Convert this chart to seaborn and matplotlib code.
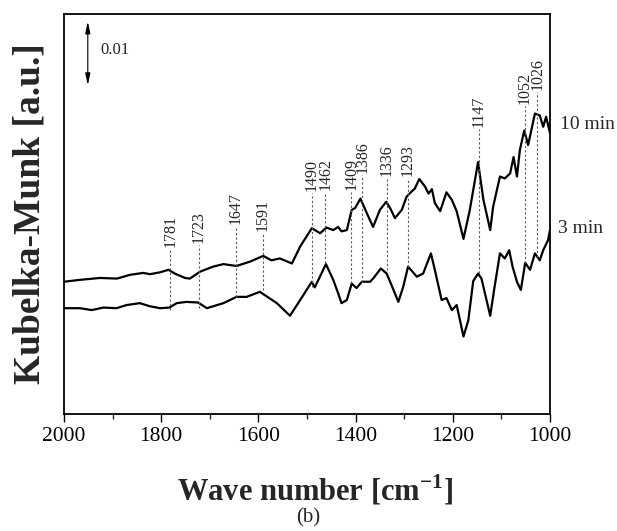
import numpy as np
import pandas as pd
import matplotlib
matplotlib.use('Agg')
import matplotlib.pyplot as plt
from matplotlib.ticker import MultipleLocator
from matplotlib.transforms import blended_transform_factory
import seaborn as sns

sns.set_style('ticks')
plt.rcParams['font.family'] = ['Liberation Serif', 'DejaVu Serif']
plt.rcParams['mathtext.fontset'] = 'custom'
plt.rcParams['mathtext.rm'] = 'Liberation Serif'
plt.rcParams['mathtext.bf'] = 'Liberation Serif:bold'

# spectra (wavenumber in cm-1, Kubelka-Munk in a.u.)
wn_10 = [2000, 1967, 1926, 1891, 1864, 1837, 1823, 1802, 1785, 1772, 1751, 1741,
         1720, 1693, 1672, 1645, 1617, 1590, 1573, 1556, 1531, 1514, 1490, 1473,
         1460, 1446, 1436, 1429, 1418, 1408, 1401, 1390, 1377, 1364, 1350, 1337,
         1329, 1319, 1305, 1295, 1285, 1278, 1269, 1257, 1250, 1243, 1237, 1226,
         1213, 1202, 1192, 1178, 1165, 1148, 1137, 1123, 1117, 1103, 1093, 1082,
         1075, 1068, 1062, 1053, 1045, 1031, 1021, 1014, 1008, 1000]
km_10 = [0.0210, 0.0213, 0.0216, 0.0215, 0.0221, 0.0224, 0.0222, 0.0225, 0.0229, 0.0223, 0.0216, 0.0215,
         0.0226, 0.0234, 0.0238, 0.0235, 0.0242, 0.0251, 0.0244, 0.0247, 0.0239, 0.0266, 0.0295, 0.0287,
         0.0296, 0.0292, 0.0297, 0.0290, 0.0292, 0.0324, 0.0327, 0.0342, 0.0319, 0.0297, 0.0324, 0.0337,
         0.0327, 0.0311, 0.0324, 0.0345, 0.0353, 0.0358, 0.0373, 0.0361, 0.0350, 0.0357, 0.0335, 0.0322,
         0.0352, 0.0340, 0.0322, 0.0278, 0.0324, 0.0400, 0.0340, 0.0292, 0.0329, 0.0377, 0.0374, 0.0382,
         0.0408, 0.0377, 0.0419, 0.0450, 0.0427, 0.0477, 0.0474, 0.0456, 0.0472, 0.0446]

wn_3 = [2000, 1967, 1943, 1919, 1892, 1871, 1844, 1823, 1802, 1783, 1768, 1748,
        1724, 1706, 1672, 1645, 1624, 1597, 1562, 1535, 1514, 1490, 1484, 1461,
        1446, 1436, 1429, 1418, 1408, 1398, 1387, 1370, 1364, 1348, 1336, 1322,
        1312, 1302, 1292, 1274, 1261, 1245, 1237, 1223, 1213, 1202, 1192, 1178,
        1168, 1158, 1148, 1141, 1123, 1115, 1103, 1093, 1084, 1077, 1068, 1060,
        1051, 1041, 1031, 1021, 1014, 1004, 1000]
km_3 = [0.0168, 0.0168, 0.0165, 0.0169, 0.0168, 0.0173, 0.0176, 0.0171, 0.0168, 0.0169, 0.0176, 0.0178,
        0.0177, 0.0168, 0.0176, 0.0186, 0.0186, 0.0194, 0.0176, 0.0156, 0.0181, 0.0210, 0.0201, 0.0238,
        0.0213, 0.0192, 0.0176, 0.0181, 0.0207, 0.0200, 0.0210, 0.0210, 0.0215, 0.0231, 0.0223, 0.0197,
        0.0178, 0.0202, 0.0234, 0.0218, 0.0223, 0.0255, 0.0229, 0.0181, 0.0184, 0.0165, 0.0173, 0.0123,
        0.0149, 0.0211, 0.0223, 0.0215, 0.0156, 0.0197, 0.0255, 0.0247, 0.0260, 0.0234, 0.0210, 0.0197,
        0.0240, 0.0229, 0.0255, 0.0244, 0.0260, 0.0276, 0.0292]

# marked bands: wavenumber, lower end of the dotted line, upper end
peaks = [1781, 1723, 1647, 1591, 1490, 1462, 1409, 1386, 1336, 1293, 1147, 1052, 1026]
peak_low = [0.0165, 0.0168, 0.0186, 0.0197, 0.0202, 0.0240, 0.0208, 0.0210, 0.0229, 0.0233, 0.0224, 0.0240, 0.0249]
peak_high = [0.0262, 0.0268, 0.0298, 0.0287, 0.0351, 0.0352, 0.0352, 0.0379, 0.0375, 0.0375, 0.0452, 0.0489, 0.0511]

df = pd.concat([
    pd.DataFrame({'wn': wn_10, 'km': km_10, 'series': '10 min'}),
    pd.DataFrame({'wn': wn_3, 'km': km_3, 'series': '3 min'}),
])

fig = plt.figure(figsize=(6.17, 5.31), dpi=100)
ax = fig.add_axes([0.1037, 0.2203, 0.7877, 0.7533])

sns.lineplot(data=df, x='wn', y='km', hue='series', units='series', estimator=None,
             palette={'10 min': 'black', '3 min': 'black'}, legend=False,
             linewidth=1.6, ax=ax)

ax.vlines(peaks, peak_low, peak_high, colors='0.35', linestyles=(0, (2, 2)), linewidth=0.8)
for w, top in zip(peaks, peak_high):
    ax.text(w, top + 0.0003, str(w), rotation=90, ha='center', va='bottom', fontsize=11.5)

# scale bar
ax.annotate('', xy=(1951, 0.0623), xytext=(1951, 0.0522),
            arrowprops=dict(arrowstyle='<|-|>,head_width=0.15,head_length=0.7',
                            color='black', lw=0.8, shrinkA=0, shrinkB=0))
ax.text(1926, 0.0578, '0.01', ha='left', va='center', fontsize=12)

trans = blended_transform_factory(ax.transAxes, ax.transData)
ax.text(1.02, 0.0459, '10 min', transform=trans, ha='left', va='center', fontsize=14)
ax.text(1.017, 0.0295, '3 min', transform=trans, ha='left', va='center', fontsize=14)

ax.set_xlim(2000, 1000)
ax.set_ylim(0, 0.0635)
ax.xaxis.set_major_locator(MultipleLocator(200))
ax.xaxis.set_minor_locator(MultipleLocator(100))
ax.tick_params(axis='x', which='major', direction='out', length=6, width=1, labelsize=15.5, colors='black')
ax.tick_params(axis='x', which='minor', direction='out', length=3.5, width=1)
ax.set_yticks([])
for s in ax.spines.values():
    s.set_linewidth(1.3)
    s.set_color('black')

ax.set_xlabel(r'Wave number [cm$^{\mathbf{-1}}$]', fontsize=22, fontweight='bold')
ax.xaxis.set_label_coords(0.516, -0.148)
ax.set_ylabel('Kubelka-Munk [a.u.]', fontsize=27, fontweight='bold', labelpad=12)
fig.text(0.5, 0.025, '(b)', ha='center', va='center', fontsize=15)

fig.savefig('out.png', dpi=100)
